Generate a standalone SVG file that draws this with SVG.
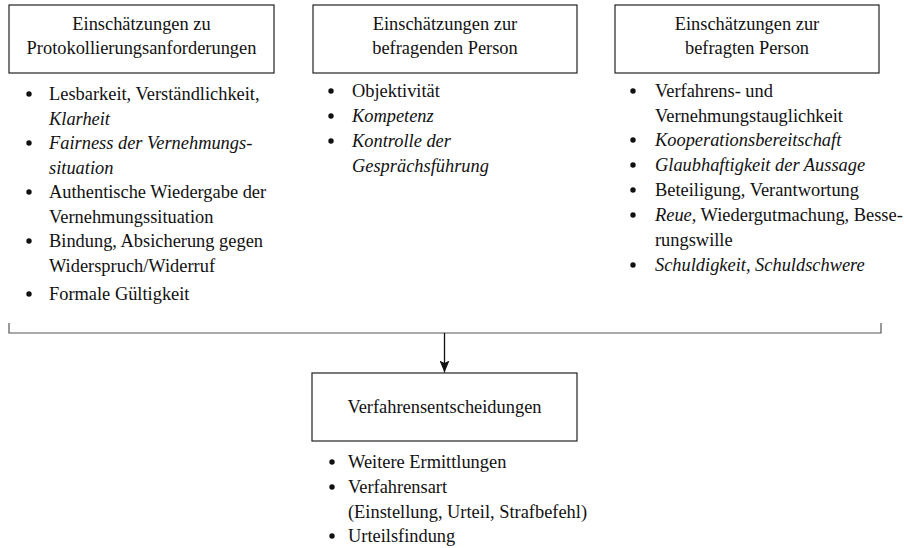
<svg xmlns="http://www.w3.org/2000/svg" width="904" height="548" viewBox="0 0 904 548">
<style>
text{font-family:"Liberation Serif","Times New Roman",serif;font-size:18.4px;fill:#111}
.c{text-anchor:middle}
.i{font-style:italic}
.box{fill:#fff;stroke:#222;stroke-width:1.2}
.b{fill:#111}
.ln{fill:none;stroke:#555;stroke-width:1.2}
.ar{fill:none;stroke:#111;stroke-width:1.3}
</style>
<defs>
<marker id="ah" markerWidth="12" markerHeight="10" refX="12" refY="5" orient="auto" markerUnits="userSpaceOnUse" viewBox="0 0 12 10">
<path d="M0,0 L12,5 L0,10 L2.5,5 Z" fill="#111"/>
</marker>
</defs>
<rect width="904" height="548" fill="#fff"/>

<g id="node-protokoll">
<rect class="box" x="9" y="5" width="265" height="68"/>
<text class="c" x="141.5" y="30">Einschätzungen zu</text>
<text class="c" x="141.5" y="54">Protokollierungsanforderungen</text>
<circle class="b" cx="29" cy="94" r="2.7"/>
<text x="49" y="100">Lesbarkeit, Verständlichkeit,</text>
<text x="49" y="124.5" class="i">Klarheit</text>
<circle class="b" cx="29" cy="143" r="2.7"/>
<text x="49" y="149" class="i">Fairness der Vernehmungs-</text>
<text x="49" y="173.5" class="i">situation</text>
<circle class="b" cx="29" cy="192" r="2.7"/>
<text x="49" y="198">Authentische Wiedergabe der</text>
<text x="49" y="222.5">Vernehmungssituation</text>
<circle class="b" cx="29" cy="241" r="2.7"/>
<text x="49" y="247">Bindung, Absicherung gegen</text>
<text x="49" y="271.5">Widerspruch/Widerruf</text>
<circle class="b" cx="29" cy="294" r="2.7"/>
<text x="49" y="300">Formale Gültigkeit</text>
</g>

<g id="node-befragende">
<rect class="box" x="313" y="5" width="264" height="68"/>
<text class="c" x="445" y="30">Einschätzungen zur</text>
<text class="c" x="445" y="54">befragenden Person</text>
<circle class="b" cx="331" cy="91" r="2.7"/>
<text x="352" y="97">Objektivität</text>
<circle class="b" cx="331" cy="116" r="2.7"/>
<text x="352" y="122" class="i">Kompetenz</text>
<circle class="b" cx="331" cy="141" r="2.7"/>
<text x="352" y="147" class="i">Kontrolle der</text>
<text x="352" y="171.5" class="i">Gesprächsführung</text>
</g>

<g id="node-befragte">
<rect class="box" x="615" y="5" width="264" height="68"/>
<text class="c" x="747" y="30">Einschätzungen zur</text>
<text class="c" x="747" y="54">befragten Person</text>
<circle class="b" cx="633" cy="91" r="2.7"/>
<text x="655" y="97">Verfahrens- und</text>
<text x="655" y="121.5">Vernehmungstauglichkeit</text>
<circle class="b" cx="633" cy="140" r="2.7"/>
<text x="655" y="146" class="i">Kooperationsbereitschaft</text>
<circle class="b" cx="633" cy="165" r="2.7"/>
<text x="655" y="171" class="i">Glaubhaftigkeit der Aussage</text>
<circle class="b" cx="633" cy="190" r="2.7"/>
<text x="655" y="196">Beteiligung, Verantwortung</text>
<circle class="b" cx="633" cy="215" r="2.7"/>
<text x="655" y="221"><tspan class="i">Reue,</tspan> Wiedergutmachung, Besse-</text>
<text x="655" y="245.5">rungswille</text>
<circle class="b" cx="633" cy="265" r="2.7"/>
<text x="655" y="271" class="i">Schuldigkeit, Schuldschwere</text>
</g>

<g id="connectors">
<path class="ln" d="M9,323 V333 H881 V323"/>
<path class="ar" d="M444.5,333 V372.5" marker-end="url(#ah)"/>
</g>

<g id="node-verfahren">
<rect class="box" x="312" y="373" width="265" height="68"/>
<text class="c" x="444.5" y="413">Verfahrensentscheidungen</text>
<circle class="b" cx="332" cy="462" r="2.7"/>
<text x="348" y="468">Weitere Ermittlungen</text>
<circle class="b" cx="332" cy="487" r="2.7"/>
<text x="348" y="493">Verfahrensart</text>
<text x="348" y="517.5">(Einstellung, Urteil, Strafbefehl)</text>
<circle class="b" cx="332" cy="536" r="2.7"/>
<text x="348" y="542">Urteilsfindung</text>
</g>
</svg>
